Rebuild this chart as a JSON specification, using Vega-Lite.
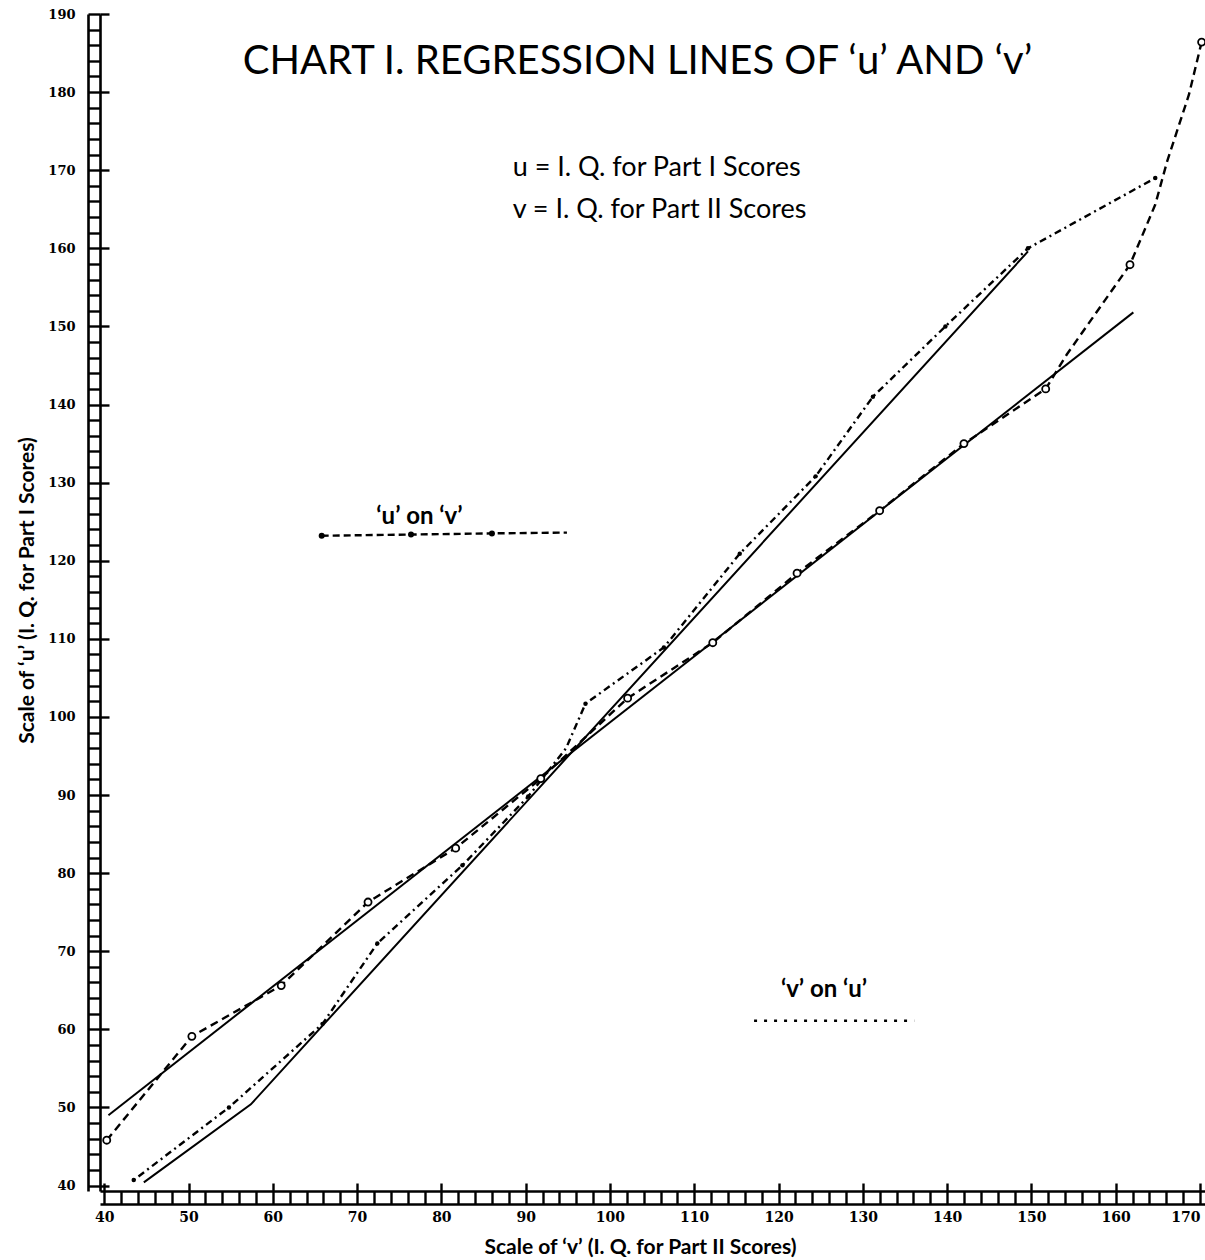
{
  "$schema": "https://vega.github.io/schema/vega-lite/v6.json",
  "width": 1105,
  "height": 1177,
  "autosize": {"type": "none"},
  "padding": {"left": 100, "top": 14, "right": 0, "bottom": 69},
  "background": "white",
  "config": {"view": {"stroke": null}, "font": "Lato"},
  "title": {
    "text": "CHART I.  REGRESSION LINES OF ‘u’ AND ‘v’",
    "font": "Lato",
    "fontSize": 40,
    "fontWeight": "normal",
    "color": "black",
    "anchor": "middle",
    "frame": "group",
    "offset": -74,
    "dx": -15
  },
  "datasets": {
    "uOnV": [
      {"v": 40.3, "u": 45.8, "obs": true},
      {"v": 50.4, "u": 59.1, "obs": true},
      {"v": 61.0, "u": 65.6, "obs": true},
      {"v": 71.3, "u": 76.3, "obs": true},
      {"v": 81.7, "u": 83.2, "obs": true},
      {"v": 91.8, "u": 92.1, "obs": true},
      {"v": 102.1, "u": 102.4, "obs": true},
      {"v": 112.2, "u": 109.5, "obs": true},
      {"v": 122.2, "u": 118.4, "obs": true},
      {"v": 132.0, "u": 126.4, "obs": true},
      {"v": 142.0, "u": 135.0, "obs": true},
      {"v": 151.7, "u": 142.0, "obs": true},
      {"v": 154.2, "u": 146.4, "obs": false},
      {"v": 161.7, "u": 157.9, "obs": true},
      {"v": 164.7, "u": 165.6, "obs": false},
      {"v": 166.1, "u": 171.1, "obs": false},
      {"v": 168.7, "u": 179.7, "obs": false},
      {"v": 170.2, "u": 186.4, "obs": true}
    ],
    "vOnU": [
      {"v": 43.5, "u": 40.7, "obs": true},
      {"v": 54.8, "u": 50.0, "obs": true},
      {"v": 65.9, "u": 60.7, "obs": true},
      {"v": 72.4, "u": 71.0, "obs": true},
      {"v": 82.5, "u": 81.0, "obs": true},
      {"v": 90.3, "u": 89.8, "obs": true},
      {"v": 94.8, "u": 96.0, "obs": false},
      {"v": 97.1, "u": 101.7, "obs": true},
      {"v": 106.4, "u": 108.9, "obs": true},
      {"v": 115.4, "u": 120.9, "obs": true},
      {"v": 124.4, "u": 130.8, "obs": true},
      {"v": 131.2, "u": 141.0, "obs": true},
      {"v": 139.8, "u": 150.0, "obs": true},
      {"v": 149.6, "u": 160.0, "obs": true},
      {"v": 164.7, "u": 169.0, "obs": true}
    ],
    "fitUV": [
      {"v": 40.5, "u": 49.0},
      {"v": 162.1, "u": 151.8}
    ],
    "fitVU": [
      {"v": 44.7, "u": 40.4},
      {"v": 57.4, "u": 50.4},
      {"v": 149.6, "u": 159.6}
    ],
    "keyU": [
      {"v": 65.8, "u": 123.2, "obs": true},
      {"v": 76.4, "u": 123.35, "obs": true},
      {"v": 86.0, "u": 123.5, "obs": true},
      {"v": 94.9, "u": 123.6, "obs": false}
    ],
    "keyV": [
      {"v": 117.1, "u": 61.1},
      {"v": 136.1, "u": 61.1}
    ],
    "labels": [
      {"v": 77.4, "u": 125.6, "text": "‘u’ on ‘v’"},
      {"v": 125.4, "u": 65.0, "text": "‘v’ on ‘u’"}
    ],
    "notes": [
      {"v": 88.46, "u": 169.25, "text": "u = I. Q. for Part I Scores"},
      {"v": 88.46, "u": 163.9, "text": "v = I. Q. for Part II Scores"}
    ]
  },
  "resolve": {"axis": {"x": "independent", "y": "independent"}},
  "layer": [
    {
      "data": {"name": "fitUV"},
      "mark": {"type": "line", "color": "black", "strokeWidth": 2},
      "encoding": {
        "x": {
          "field": "v", "type": "quantitative",
          "scale": {"domain": [39.5, 170.6], "nice": false, "zero": false},
          "axis": {
            "orient": "bottom", "offset": 0,
            "values": [40,42,44,46,48,50,52,54,56,58,60,62,64,66,68,70,72,74,76,78,80,82,84,86,88,90,92,94,96,98,100,102,104,106,108,110,112,114,116,118,120,122,124,126,128,130,132,134,136,138,140,142,144,146,148,150,152,154,156,158,160,162,164,166,168,170],
            "domain": true, "domainColor": "black", "domainWidth": 2.6,
            "ticks": true, "tickSize": 13, "tickWidth": 2.4, "tickColor": "black",
            "labelExpr": "datum.value % 10 === 0 ? datum.label : ''",
            "labelAlign": {"condition": {"test": "datum.value >= 170", "value": "right"}, "value": "center"},
            "labelOverlap": false, "labelFlush": false,
            "labelFont": "DejaVu Serif", "labelFontWeight": "bold", "labelFontSize": 14, "labelColor": "black",
            "labelPadding": 6,
            "grid": false,
            "title": "Scale of ‘v’ (I. Q. for Part II Scores)",
            "titleFont": "Lato", "titleFontWeight": "bold", "titleFontSize": 21, "titleColor": "black",
            "titlePadding": 12,
            "titleX": 540
          }
        },
        "y": {
          "field": "u", "type": "quantitative",
          "scale": {"domain": [39.3, 190], "nice": false, "zero": false},
          "axis": {
            "orient": "left", "offset": 0,
            "values": [40,42,44,46,48,50,52,54,56,58,60,62,64,66,68,70,72,74,76,78,80,82,84,86,88,90,92,94,96,98,100,102,104,106,108,110,112,114,116,118,120,122,124,126,128,130,132,134,136,138,140,142,144,146,148,150,152,154,156,158,160,162,164,166,168,170,172,174,176,178,180,182,184,186,188,190],
            "domain": true, "domainColor": "black", "domainWidth": 2.6,
            "ticks": true, "tickSize": 12, "tickWidth": 2.4, "tickColor": "black",
            "labelExpr": "datum.value % 10 === 0 ? datum.label : ''",
            "labelOverlap": false, "labelFlush": false,
            "labelFont": "DejaVu Serif", "labelFontWeight": "bold", "labelFontSize": 13, "labelColor": "black",
            "labelPadding": 13,
            "grid": false,
            "title": "Scale of ‘u’ (I. Q. for Part I Scores)",
            "titleFont": "Lato", "titleFontWeight": "bold", "titleFontSize": 21, "titleColor": "black",
            "titlePadding": 10,
            "titleY": 576
          }
        }
      }
    },
    {
      "data": {"name": "fitVU"},
      "mark": {"type": "line", "color": "black", "strokeWidth": 2},
      "encoding": {
        "x": {
          "field": "v", "type": "quantitative",
          "axis": {"orient": "bottom", "offset": 13, "ticks": false, "labels": false, "domain": true, "domainColor": "black", "domainWidth": 2.6, "grid": false, "title": null}
        },
        "y": {
          "field": "u", "type": "quantitative",
          "axis": {"orient": "left", "offset": 12, "ticks": false, "labels": false, "domain": true, "domainColor": "black", "domainWidth": 2.6, "grid": false, "title": null}
        }
      }
    },
    {
      "data": {"name": "uOnV"},
      "mark": {"type": "line", "color": "black", "strokeWidth": 2.4, "strokeDash": [8, 5]},
      "encoding": {
        "x": {
          "field": "v", "type": "quantitative",
          "axis": {"orient": "bottom", "offset": -8, "values": [40,50,60,70,80,90,100,110,120,130,140,150,160,170], "ticks": true, "tickSize": 8, "tickWidth": 2.4, "tickColor": "black", "labels": false, "domain": false, "grid": false, "title": null}
        },
        "y": {
          "field": "u", "type": "quantitative",
          "axis": {"orient": "left", "offset": -9, "values": [40,50,60,70,80,90,100,110,120,130,140,150,160,170,180,190], "ticks": true, "tickSize": 9, "tickWidth": 2.4, "tickColor": "black", "labels": false, "domain": false, "grid": false, "title": null}
        }
      }
    },
    {
      "data": {"name": "vOnU"},
      "mark": {"type": "line", "color": "black", "strokeWidth": 2.4, "strokeDash": [2, 4, 7, 4]},
      "encoding": {
        "x": {"field": "v", "type": "quantitative", "axis": null},
        "y": {"field": "u", "type": "quantitative", "axis": null}
      }
    },
    {
      "data": {"name": "uOnV"},
      "transform": [{"filter": "datum.obs"}],
      "mark": {"type": "point", "shape": "circle", "filled": true, "fill": "white", "stroke": "black", "strokeWidth": 1.8, "size": 50, "opacity": 1},
      "encoding": {
        "x": {"field": "v", "type": "quantitative", "axis": null},
        "y": {"field": "u", "type": "quantitative", "axis": null}
      }
    },
    {
      "data": {"name": "vOnU"},
      "transform": [{"filter": "datum.obs"}],
      "mark": {"type": "circle", "color": "black", "size": 20, "opacity": 1},
      "encoding": {
        "x": {"field": "v", "type": "quantitative", "axis": null},
        "y": {"field": "u", "type": "quantitative", "axis": null}
      }
    },
    {
      "data": {"name": "keyU"},
      "mark": {"type": "line", "color": "black", "strokeWidth": 2.4, "strokeDash": [7, 4]},
      "encoding": {
        "x": {"field": "v", "type": "quantitative", "axis": null},
        "y": {"field": "u", "type": "quantitative", "axis": null}
      }
    },
    {
      "data": {"name": "keyU"},
      "transform": [{"filter": "datum.obs"}],
      "mark": {"type": "circle", "color": "black", "size": 36, "opacity": 1},
      "encoding": {
        "x": {"field": "v", "type": "quantitative", "axis": null},
        "y": {"field": "u", "type": "quantitative", "axis": null}
      }
    },
    {
      "data": {"name": "keyV"},
      "mark": {"type": "line", "color": "black", "strokeWidth": 2.6, "strokeDash": [3, 7]},
      "encoding": {
        "x": {"field": "v", "type": "quantitative", "axis": null},
        "y": {"field": "u", "type": "quantitative", "axis": null}
      }
    },
    {
      "data": {"name": "labels"},
      "mark": {"type": "text", "font": "Lato", "fontWeight": "bold", "fontSize": 24, "color": "black", "align": "center", "baseline": "middle"},
      "encoding": {
        "x": {"field": "v", "type": "quantitative", "axis": null},
        "y": {"field": "u", "type": "quantitative", "axis": null},
        "text": {"field": "text"}
      }
    },
    {
      "data": {"name": "notes"},
      "mark": {"type": "text", "font": "Lato", "fontSize": 27, "color": "black", "align": "left", "baseline": "alphabetic"},
      "encoding": {
        "x": {"field": "v", "type": "quantitative", "axis": null},
        "y": {"field": "u", "type": "quantitative", "axis": null},
        "text": {"field": "text"}
      }
    }
  ]
}
